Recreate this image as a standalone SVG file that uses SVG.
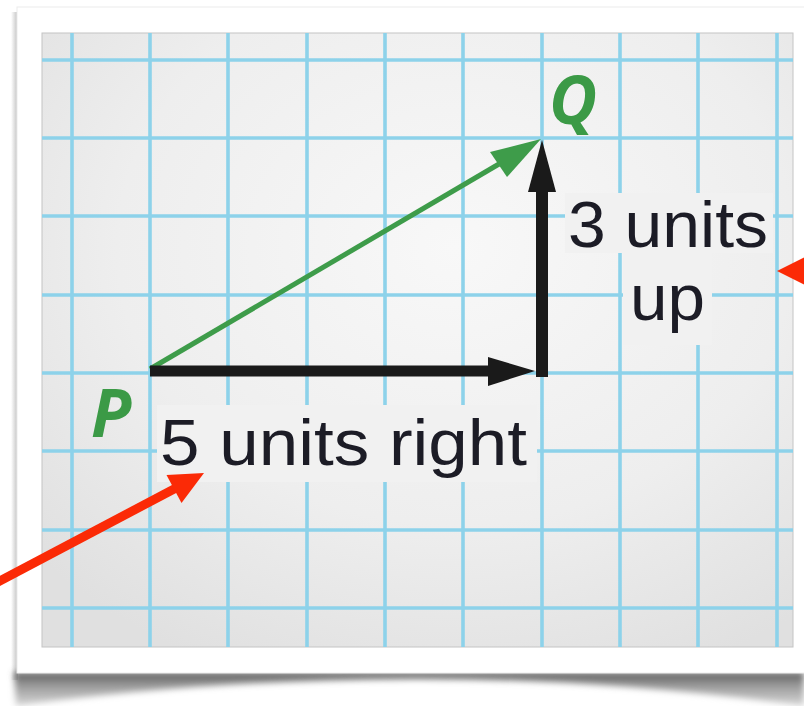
<svg xmlns="http://www.w3.org/2000/svg" width="804" height="706" viewBox="0 0 804 706">
  <defs>
    <style>
      .grid line { stroke: #8dd2ea; stroke-width: 3.6; }
      .lbl { font-family: "Liberation Sans", "Open Sans", sans-serif; font-size: 64px; fill: #1c1c26; }
      .pt { font-family: "Open Sans", "Liberation Sans", sans-serif; font-size: 66px; font-weight: 700; font-style: italic; fill: #3b9a46; }
      .box { fill: #f1f1f1; }
      .blk { stroke: #1a1a1a; fill: none; }
      .red { stroke: #fb2a06; stroke-width: 9; fill: none; }
    </style>
    <radialGradient id="paper" cx="0.55" cy="0.35" r="0.75">
      <stop offset="0" stop-color="#f8f8f8"/>
      <stop offset="0.6" stop-color="#eeeeee"/>
      <stop offset="1" stop-color="#e0e0e0"/>
    </radialGradient>
    <linearGradient id="shadowG" x1="0" y1="0" x2="0" y2="1">
      <stop offset="0" stop-color="#5a5a5a"/>
      <stop offset="0.4" stop-color="#9a9a9a"/>
      <stop offset="1" stop-color="#d8d8d8"/>
    </linearGradient>
    <linearGradient id="leftG" x1="1" y1="0" x2="0" y2="0">
      <stop offset="0" stop-color="#bdbdbd"/>
      <stop offset="1" stop-color="#ffffff"/>
    </linearGradient>
    <filter id="blur" x="-0.1" y="-0.5" width="1.2" height="2">
      <feGaussianBlur stdDeviation="3"/>
    </filter>
    <clipPath id="gridClip">
      <rect x="42" y="33" width="751" height="614"/>
    </clipPath>
  </defs>

  <rect x="0" y="0" width="804" height="706" fill="#ffffff"/>

  <g id="frame">
    <rect x="11" y="12" width="7" height="668" fill="url(#leftG)"/>
    <path d="M14,672 L804,672 L804,706 Q600,678 410,679 Q200,680 16,706 Z" fill="url(#shadowG)" filter="url(#blur)"/>
    <rect x="17" y="7" width="800" height="666" fill="#ffffff" stroke="#ececec" stroke-width="1"/>
    <rect x="42" y="33" width="751" height="614" fill="url(#paper)" stroke="#c4c4c4" stroke-width="1"/>
  </g>

  <g id="grid" class="grid" clip-path="url(#gridClip)">
    <line x1="72" y1="33" x2="72" y2="647"/>
    <line x1="150" y1="33" x2="150" y2="647"/>
    <line x1="228" y1="33" x2="228" y2="647"/>
    <line x1="307" y1="33" x2="307" y2="647"/>
    <line x1="385" y1="33" x2="385" y2="647"/>
    <line x1="463" y1="33" x2="463" y2="647"/>
    <line x1="542" y1="33" x2="542" y2="647"/>
    <line x1="620" y1="33" x2="620" y2="647"/>
    <line x1="698" y1="33" x2="698" y2="647"/>
    <line x1="777" y1="33" x2="777" y2="647"/>
    <line x1="42" y1="60" x2="793" y2="60"/>
    <line x1="42" y1="138" x2="793" y2="138"/>
    <line x1="42" y1="216" x2="793" y2="216"/>
    <line x1="42" y1="295" x2="793" y2="295"/>
    <line x1="42" y1="373" x2="793" y2="373"/>
    <line x1="42" y1="451" x2="793" y2="451"/>
    <line x1="42" y1="530" x2="793" y2="530"/>
    <line x1="42" y1="608" x2="793" y2="608"/>
  </g>

  <g id="label-right">
    <rect class="box" x="157" y="405" width="380" height="77"/>
    <text class="lbl" x="160" y="465" textLength="367" lengthAdjust="spacingAndGlyphs">5 units right</text>
  </g>
  <g id="label-up">
    <rect class="box" x="565" y="193" width="208" height="60"/>
    <rect class="box" x="623" y="253" width="89" height="92"/>
    <text class="lbl" x="568" y="247" textLength="200" lengthAdjust="spacingAndGlyphs">3 units</text>
    <text class="lbl" x="630" y="320" textLength="75" lengthAdjust="spacingAndGlyphs">up</text>
  </g>

  <g id="point-P">
    <text class="pt" x="91" y="437">P</text>
  </g>
  <g id="point-Q">
    <text class="pt" x="549" y="124">Q</text>
  </g>

  <g id="connectors">
    <g id="vector-PQ">
      <line x1="150" y1="369" x2="499" y2="164" stroke="#3e9c4a" stroke-width="5"/>
      <polygon points="541,139 490,152 507,177" fill="#3e9c4a"/>
    </g>
    <g id="arrow-right">
      <line class="blk" x1="150" y1="371" x2="492" y2="371" stroke-width="11"/>
      <polygon points="488,357 535,371 488,386" fill="#1a1a1a"/>
    </g>
    <g id="arrow-up">
      <line class="blk" x1="542" y1="377" x2="542" y2="188" stroke-width="12"/>
      <polygon points="528,192 542,140 556,192" fill="#1a1a1a"/>
    </g>
    <g id="red-arrow-left">
      <line class="red" x1="-6" y1="584" x2="176" y2="488"/>
      <polygon points="204,473 166.5,475 181.5,503" fill="#fb2a06"/>
    </g>
    <g id="red-arrow-right">
      <line class="red" x1="808" y1="271" x2="840" y2="271"/>
      <polygon points="777,271 811,254 811,288" fill="#fb2a06"/>
    </g>
  </g>
</svg>
